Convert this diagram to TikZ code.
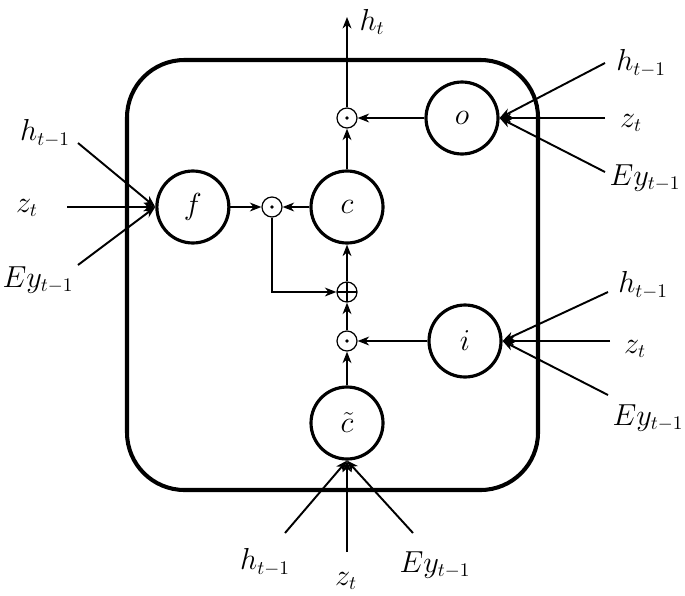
\documentclass[tikz,border=0pt]{standalone}
\usepackage{amsmath}
\usepackage{amssymb}
\usepackage{tikz}
\usetikzlibrary{arrows.meta,positioning}
\tikzset{
  gate/.style = {circle, draw=black, line width=1.8pt, minimum size=1.44cm,
    inner sep=0pt, font=\fontsize{16}{19}\selectfont},% porte
  op/.style = {circle, draw=black, line width=0.7pt, minimum size=0.4cm,
    inner sep=0pt},% operation
  odot/.style = {op, path picture={\fill (path picture bounding box.center) circle (1.1pt);}},% produit
  oplus/.style = {op, path picture={\draw[line width=0.7pt]
    (path picture bounding box.north) -- (path picture bounding box.south)
    (path picture bounding box.west) -- (path picture bounding box.east);}},% somme
  lab/.style = {font=\fontsize{16}{19}\selectfont, inner sep=0pt},
  wire/.style = {->, line width=1.1pt}
}
\begin{document}
\begin{tikzpicture}[x=0.02cm,y=-0.02cm,>={Stealth[length=6.5pt,width=5pt,inset=2pt]}]
        \useasboundingbox (0,0) rectangle (685,595);
        \draw[line width=2.3pt, rounded corners=1.15cm] (127,60) rectangle (538,490);

        \node [gate](c) at (347,207){$c$};
        \node [gate, left=1.58cm of c](f){$f$};
        \node [gate](o) at (462,118){$o$};
        \node [gate](i) at (465,341){$i$};
        \node [gate](ct) at (347,423){$\tilde{c}$};

        \node [odot](mo) at (347,118){};
        \node [odot](mf) at (272,207){};
        \node [oplus](add) at (347,292){};
        \node [odot](mi) at (347,341){};

        \draw[wire] (f) -- (mf);
        \draw[wire] (c) -- (mf);
        \draw[wire] (mf) |- (add);
        \draw[wire] (mi) -- (add);
        \draw[wire] (add) -- (c);
        \draw[wire] (ct) -- (mi);
        \draw[wire] (i) -- (mi);
        \draw[wire] (c) -- (mo);
        \draw[wire] (o) -- (mo);
        \coordinate (top) at (347,17);
        \draw[wire] (mo) -- (top);
        \node [lab](ht) at (372,22){$h_t$};

        % entrees de f
        \coordinate (fh) at (78,143);
        \coordinate (fz) at (67,207);
        \coordinate (fe) at (78,265);
        \draw[wire] (fh) -- (f.west);
        \draw[wire] (fz) -- (f.west);
        \draw[wire] (fe) -- (f.west);
        \node [lab](lfh) at (45,133){$h_{t-1}$};
        \node [lab](lfz) at (27,208){$z_t$};
        \node [lab](lfe) at (38,280){$Ey_{t-1}$};

        % entrees de o
        \coordinate (oh) at (605,63);
        \coordinate (oz) at (605,118);
        \coordinate (oe) at (605,172);
        \draw[wire] (oh) -- (o.east);
        \draw[wire] (oz) -- (o.east);
        \draw[wire] (oe) -- (o.east);
        \node [lab](loh) at (641,63){$h_{t-1}$};
        \node [lab](loz) at (631,123){$z_t$};
        \node [lab](loe) at (645,178){$Ey_{t-1}$};

        % entrees de i
        \coordinate (ih) at (608,292);
        \coordinate (iz) at (610,341);
        \coordinate (ie) at (608,395);
        \draw[wire] (ih) -- (i.east);
        \draw[wire] (iz) -- (i.east);
        \draw[wire] (ie) -- (i.east);
        \node [lab](lih) at (643,285){$h_{t-1}$};
        \node [lab](liz) at (635,349){$z_t$};
        \node [lab](lie) at (648,418){$Ey_{t-1}$};

        % entrees de c tilde
        \coordinate (cth) at (285,533);
        \coordinate (ctz) at (347,552);
        \coordinate (cte) at (413,533);
        \draw[wire] (cth) -- (ct.south);
        \draw[wire] (ctz) -- (ct.south);
        \draw[wire] (cte) -- (ct.south);
        \node [lab](lcth) at (265,562){$h_{t-1}$};
        \node [lab](lctz) at (346,581){$z_t$};
        \node [lab](lcte) at (435,565){$Ey_{t-1}$};

        \end{tikzpicture}
\end{document}
